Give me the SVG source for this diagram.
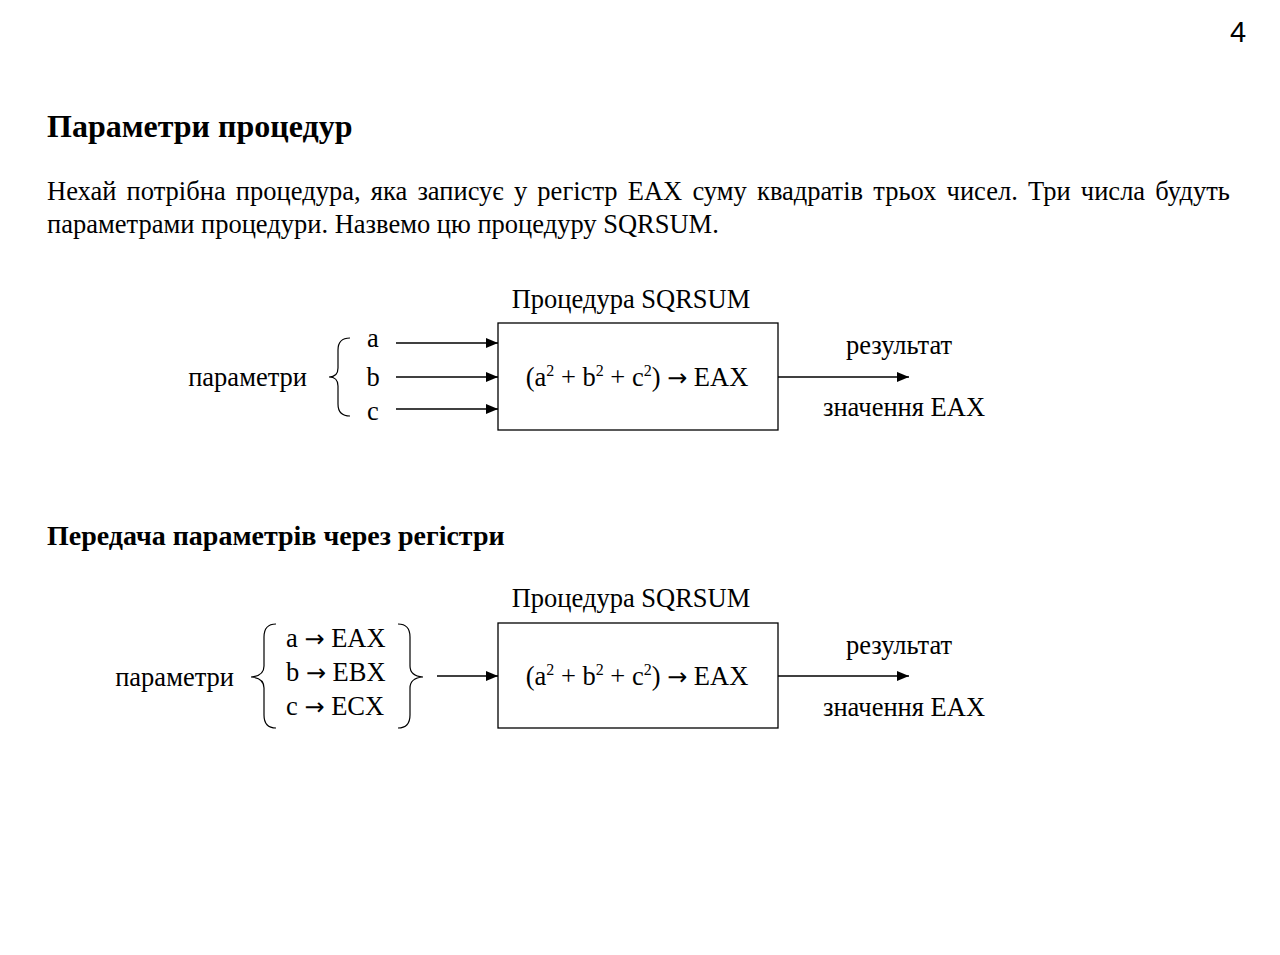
<svg xmlns="http://www.w3.org/2000/svg" width="1280" height="955" viewBox="0 0 1280 955">
  <defs>
    <marker id="arrow" viewBox="0 0 12 10" refX="12" refY="5" markerWidth="12" markerHeight="10" markerUnits="userSpaceOnUse" orient="auto">
      <path d="M0,0 L12,5 L0,10 Z" fill="#000"/>
    </marker>
  </defs>
  <style>
    .t { font-family: "Liberation Serif", "Times New Roman", serif; font-size: 26.5px; fill: #000; }
    .h { font-family: "Liberation Serif", "Times New Roman", serif; font-size: 32px; font-weight: bold; fill: #000; }
    .h2 { font-family: "Liberation Serif", "Times New Roman", serif; font-size: 28px; font-weight: bold; fill: #000; }
    .num { font-family: "Liberation Sans", Arial, sans-serif; font-size: 29px; fill: #000; }
    .box { fill: #fff; stroke: #000; stroke-width: 1.3; }
    .ln { stroke: #000; stroke-width: 1.5; fill: none; }
    .br { stroke: #000; stroke-width: 1.2; fill: none; }
    .sup { font-size: 16px; }
    .ar { font-family: "DejaVu Sans", sans-serif; font-size: 24px; }
  </style>
  <rect width="1280" height="955" fill="#fff"/>

  <text class="num" x="1238" y="42" text-anchor="middle">4</text>

  <text class="h" x="47" y="137">Параметри процедур</text>

  <!-- justified first line: widened word gaps -->
  <text class="t" x="47" y="200" word-spacing="3.6">Нехай потрібна процедура, яка записує у регістр EAX суму квадратів трьох чисел. Три числа будуть</text>
  <text class="t" x="47" y="233">параметрами процедури. Назвемо цю процедуру SQRSUM.</text>

  <!-- First scheme: parameters passed as a, b, c -->
  <g id="proc1">
    <text class="t" x="631" y="308" text-anchor="middle">Процедура SQRSUM</text>
    <rect class="box" x="498" y="323" width="280" height="107"/>
    <text class="t" x="637" y="386" text-anchor="middle">(a<tspan class="sup" dy="-10">2</tspan><tspan dy="10"> + b</tspan><tspan class="sup" dy="-10">2</tspan><tspan dy="10"> + c</tspan><tspan class="sup" dy="-10">2</tspan><tspan dy="10">) </tspan><tspan class="ar">→</tspan> EAX</text>
  </g>
  <g id="params1">
    <text class="t" x="307" y="386" text-anchor="end">параметри</text>
    <path class="br" d="M350,338 Q338,338 338,350 L338,368 Q338,377 329,377 Q338,377 338,386 L338,404 Q338,416 350,416"/>
    <text class="t" x="373" y="347" text-anchor="middle">a</text>
    <text class="t" x="373" y="386" text-anchor="middle">b</text>
    <text class="t" x="373" y="420" text-anchor="middle">c</text>
  </g>
  <g id="result1">
    <text class="t" x="899" y="354" text-anchor="middle">результат</text>
    <text class="t" x="904" y="416" text-anchor="middle">значення EAX</text>
  </g>

  <text class="h2" x="47" y="545">Передача параметрів через регістри</text>

  <!-- Second scheme: parameters passed in registers -->
  <g id="proc2">
    <text class="t" x="631" y="607" text-anchor="middle">Процедура SQRSUM</text>
    <rect class="box" x="498" y="623" width="280" height="105"/>
    <text class="t" x="637" y="685" text-anchor="middle">(a<tspan class="sup" dy="-10">2</tspan><tspan dy="10"> + b</tspan><tspan class="sup" dy="-10">2</tspan><tspan dy="10"> + c</tspan><tspan class="sup" dy="-10">2</tspan><tspan dy="10">) </tspan><tspan class="ar">→</tspan> EAX</text>
  </g>
  <g id="params2">
    <text class="t" x="234" y="686" text-anchor="end">параметри</text>
    <path class="br" d="M276,624 Q264,624 264,637 L264,666 Q264,676 251,677 Q264,678 264,688 L264,715 Q264,728 276,728"/>
    <text class="t" x="286" y="647">a <tspan class="ar">→</tspan> EAX</text>
    <text class="t" x="286" y="681">b <tspan class="ar">→</tspan> EBX</text>
    <text class="t" x="286" y="715">c <tspan class="ar">→</tspan> ECX</text>
    <path class="br" d="M398,624 Q410,624 410,637 L410,666 Q410,676 423,677 Q410,678 410,688 L410,715 Q410,728 398,728"/>
  </g>
  <g id="result2">
    <text class="t" x="899" y="654" text-anchor="middle">результат</text>
    <text class="t" x="904" y="716" text-anchor="middle">значення EAX</text>
  </g>

  <g id="connectors">
    <line class="ln" x1="396" y1="343" x2="498" y2="343" marker-end="url(#arrow)"/>
    <line class="ln" x1="396" y1="377" x2="498" y2="377" marker-end="url(#arrow)"/>
    <line class="ln" x1="396" y1="409" x2="498" y2="409" marker-end="url(#arrow)"/>
    <line class="ln" x1="778" y1="377" x2="909" y2="377" marker-end="url(#arrow)"/>
    <line class="ln" x1="437" y1="676" x2="498" y2="676" marker-end="url(#arrow)"/>
    <line class="ln" x1="778" y1="676" x2="909" y2="676" marker-end="url(#arrow)"/>
  </g>
</svg>
